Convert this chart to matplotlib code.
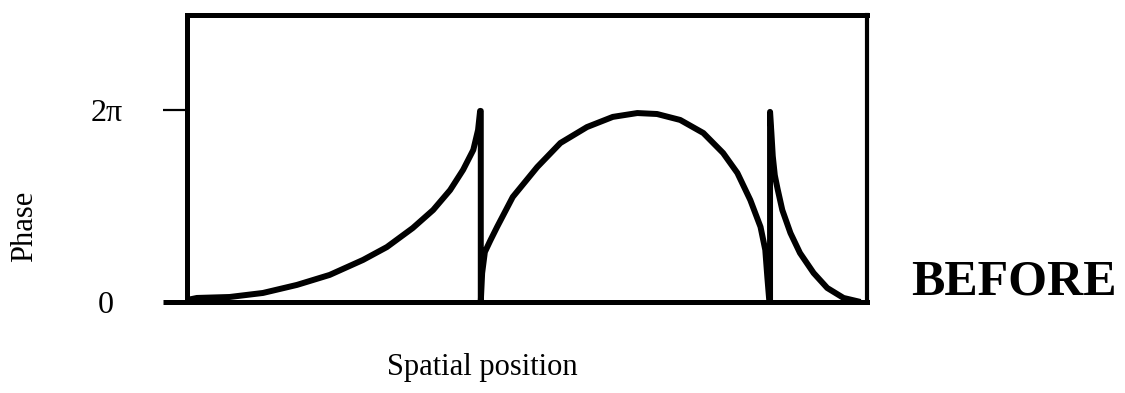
import matplotlib
matplotlib.use("Agg")
import matplotlib.pyplot as plt
import numpy as np

plt.rcParams['font.family'] = 'serif'
plt.rcParams['font.serif'] = ['Liberation Serif', 'DejaVu Serif']

# Wrapped phase along the sample, in units of one cycle (1.0 = 2 pi)
pos_1 = [0.000, 0.015, 0.063, 0.112, 0.162, 0.210, 0.259, 0.294, 0.332, 0.362,
         0.387, 0.406, 0.421, 0.428, 0.431]
phase_1 = [0.010, 0.021, 0.026, 0.047, 0.089, 0.141, 0.219, 0.286, 0.385, 0.479,
           0.583, 0.688, 0.792, 0.896, 0.995]

pos_2 = [0.432, 0.432, 0.434, 0.438, 0.446, 0.456, 0.479, 0.515, 0.549, 0.588, 0.626,
         0.662, 0.691, 0.725, 0.759, 0.788, 0.809, 0.828, 0.843, 0.850, 0.853, 0.856]
phase_2 = [0.995, 0.000, 0.150, 0.260, 0.320, 0.391, 0.547, 0.703, 0.828, 0.911, 0.964,
           0.984, 0.979, 0.948, 0.880, 0.776, 0.672, 0.531, 0.391, 0.271, 0.130, 0.000]

pos_3 = [0.857, 0.857, 0.859, 0.861, 0.864, 0.868, 0.875, 0.887, 0.901, 0.921, 0.941, 0.965, 0.990]
phase_3 = [0.000, 0.990, 0.880, 0.760, 0.660, 0.590, 0.479, 0.359, 0.255, 0.151, 0.073, 0.021, 0.000]

ytick_pos = [0, 1]
ytick_labels = ['0', '2π']

fig = plt.figure(figsize=(11.25, 3.93), dpi=100)
ax = fig.add_axes([0.166, 0.2316, 0.605, 0.7304])

x = np.concatenate([pos_1, pos_2, pos_3])
y = np.concatenate([phase_1, phase_2, phase_3])
ax.plot(x, y, color='black', lw=4.3, solid_joinstyle='round', solid_capstyle='butt')

ax.set_xlim(0, 1)
ax.set_ylim(0, 1.495)

for side in ['left', 'top', 'right', 'bottom']:
    ax.spines[side].set_linewidth(3.6)
ax.spines['right'].set_linewidth(3.0)

ax.set_xticks([])
ax.set_yticks(ytick_pos)
ax.set_yticklabels(ytick_labels, fontsize=23, ha='center')
ax.tick_params(axis='y', length=17, width=1.6, pad=41)
# the zero tick continues the bottom axis line
ax.yaxis.get_major_ticks()[0].tick1line.set_markeredgewidth(3.6)

ax.set_xlabel('Spatial position', fontsize=22)
ax.xaxis.set_label_coords(0.434, -0.178)
ax.set_ylabel('Phase', fontsize=22, va='center')
ax.yaxis.set_label_coords(-0.238, 0.265)

fig.text(0.901, 0.28, 'BEFORE', fontsize=36, fontweight='bold', ha='center', va='center')

fig.savefig('out.png', dpi=100)
